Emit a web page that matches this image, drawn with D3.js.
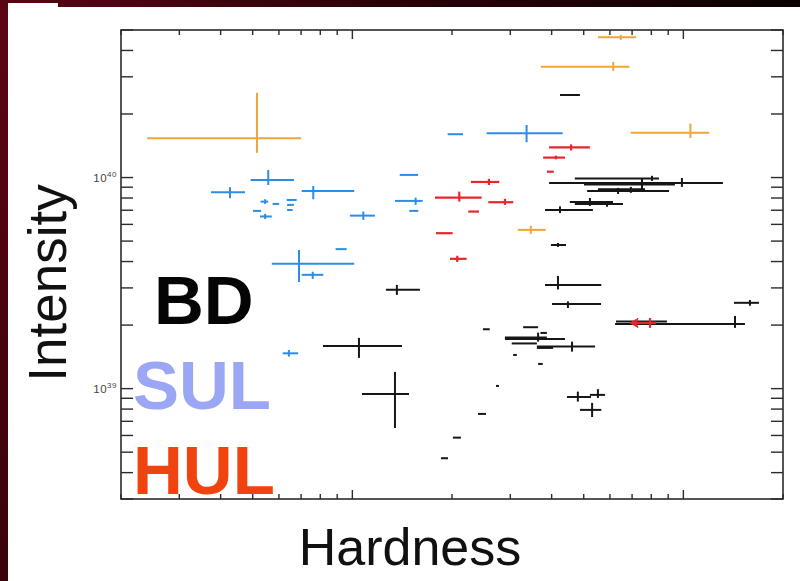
<!DOCTYPE html>
<html>
<head>
<meta charset="utf-8">
<script src="https://cdn.jsdelivr.net/npm/d3@7/dist/d3.min.js"></script>
<style>
  html, body { margin: 0; padding: 0; background: #2a0006; }
  svg { display: block; }
  text { font-family: "Liberation Sans", Arial, Helvetica, sans-serif; }
</style>
</head>
<body>
<svg id="chart" width="800" height="581"></svg>
<script>
// Hardness (x) vs intensity (y), both logarithmic.
// Each row: [x, xLow, xHigh, y, yLow, yHigh]; rows with 4 values have no y error.
const orangeRows = [
  [0.515, 0.24, 0.70, 1.535e40, 1.31e40, 2.52e40],
  [6.47, 5.52, 7.19, 4.62e40, 4.49e40, 4.74e40],
  [6.14, 3.71, 6.87, 3.35e40, 3.20e40, 3.53e40],
  [10.5, 6.93, 11.97, 1.63e40, 1.54e40, 1.80e40],
  [3.46, 3.16, 3.84, 5.65e39, 5.41e39, 5.90e39]
];

const sulRows = [
  [0.557, 0.493, 0.666, 9.74e39, 9.22e39, 1.087e40],
  [0.427, 0.374, 0.474, 8.52e39, 7.98e39, 9.0e39],
  [0.762, 0.703, 1.013, 8.64e39, 7.89e39, 9.12e39],
  [0.545, 0.528, 0.557, 7.69e39, 7.50e39, 7.89e39],
  [0.588, 0.574, 0.601, 7.50e39],
  [0.656, 0.633, 0.679, 7.83e39],
  [0.650, 0.635, 0.666, 7.42e39],
  [0.648, 0.635, 0.660, 7.02e39],
  [0.515, 0.501, 0.530, 6.95e39],
  [0.545, 0.526, 0.571, 6.54e39, 6.36e39, 6.73e39],
  [1.079, 0.983, 1.170, 6.60e39, 6.30e39, 6.90e39],
  [0.924, 0.890, 0.961, 4.58e39],
  [0.690, 0.571, 1.013, 3.90e39, 3.20e39, 4.54e39],
  [0.759, 0.703, 0.817, 3.46e39, 3.31e39, 3.58e39],
  [0.643, 0.616, 0.686, 1.47e39, 1.418e39, 1.525e39],
  [2.05, 1.94, 2.16, 1.604e40],
  [3.36, 2.545, 4.32, 1.621e40, 1.47e40, 1.775e40],
  [1.48, 1.39, 1.58, 1.029e40],
  [1.553, 1.345, 1.631, 7.75e39, 7.42e39, 8.03e39],
  [1.533, 1.486, 1.581, 6.95e39]
];

const hulRows = [
  [4.58, 3.93, 5.22, 1.389e40, 1.343e40, 1.435e40],
  [4.12, 3.77, 4.39, 1.243e40, 1.22e40, 1.27e40],
  [3.97, 3.87, 4.06, 1.066e40],
  [2.586, 2.282, 2.778, 9.53e39, 9.22e39, 9.86e39],
  [2.104, 1.777, 2.458, 8.03e39, 7.69e39, 8.58e39],
  [2.891, 2.574, 3.063, 7.64e39, 7.42e39, 7.93e39],
  [2.326, 2.239, 2.413, 6.90e39],
  [1.895, 1.789, 2.009, 5.45e39],
  [2.075, 1.972, 2.214, 4.12e39, 3.98e39, 4.26e39],
  [7.93, 7.93, 8.26, 2.048e39, 1.94e39, 2.16e39]
];

// Upper limits in hardness: [xFrom, xTo (arrow tip), y]
const hulLimits = [
  [8.26, 6.90, 2.048e39]
];

const bdRows = [
  [4.54, 4.24, 4.87, 2.46e40],
  [9.90, 3.93, 13.17, 9.43e39, 9.03e39, 9.95e39],
  [8.04, 4.70, 8.44, 9.90e39, 9.64e39, 1.019e40],
  [7.50, 5.01, 9.43, 9.28e39, 8.75e39, 9.86e39],
  [6.35, 5.12, 9.05, 8.64e39, 8.36e39, 8.93e39],
  [6.94, 5.52, 7.66, 8.80e39, 8.46e39, 9.03e39],
  [5.22, 4.54, 6.13, 7.66e39, 7.34e39, 8.0e39],
  [5.88, 4.70, 6.57, 7.50e39, 7.27e39, 7.66e39],
  [4.24, 3.82, 5.33, 7.02e39, 6.79e39, 7.30e39],
  [4.18, 3.98, 4.42, 4.79e39, 4.69e39, 4.90e39],
  [4.18, 3.82, 5.65, 3.10e39, 2.95e39, 3.42e39],
  [4.48, 4.01, 5.64, 2.52e39, 2.41e39, 2.59e39],
  [1.363, 1.263, 1.600, 2.94e39, 2.78e39, 3.10e39],
  [1.047, 0.815, 1.412, 1.593e39, 1.398e39, 1.739e39],
  [1.345, 1.069, 1.483, 9.44e38, 6.51e38, 1.20e39],
  [14.32, 6.22, 15.35, 2.026e39, 1.94e39, 2.21e39],
  [15.89, 14.22, 16.92, 2.55e39, 2.47e39, 2.63e39],
  [2.54, 2.48, 2.60, 1.911e39],
  [3.44, 3.28, 3.64, 1.954e39],
  [3.64, 2.89, 4.39, 1.72e39, 1.670e39, 1.842e39],
  [3.44, 2.89, 3.87, 1.748e39],
  [3.32, 3.03, 3.61, 1.637e39],
  [4.61, 3.61, 5.41, 1.585e39, 1.497e39, 1.670e39],
  [3.82, 3.61, 4.04, 1.559e39],
  [3.10, 3.06, 3.14, 1.444e39],
  [3.70, 3.64, 3.76, 1.309e39],
  [2.745, 2.716, 2.773, 1.030e39],
  [2.464, 2.396, 2.533, 7.59e38],
  [2.07, 2.013, 2.128, 5.86e38],
  [1.898, 1.852, 1.945, 4.68e38],
  [4.80, 4.45, 5.26, 9.13e38, 8.68e38, 9.68e38],
  [5.52, 5.22, 5.80, 9.34e38, 9.03e38, 9.94e38],
  [5.30, 4.87, 5.65, 7.93e38, 7.34e38, 8.56e38],
  [7.93, 6.26, 8.92, 2.08e39],
  [3.76, 3.70, 3.87, 1.836e39]
];

const yMajorTicks = [1e39, 1e40];
const yTickExponents = ["39", "40"];
const xMajorTicks = [1, 10];
const legendLabels = ["BD", "SUL", "HUL"];

const svg = d3.select("#chart");
const W = 800, H = 581;

// slide background: dark border on the left and top, white panel
const defs = svg.append("defs");
const topGrad = defs.append("linearGradient").attr("id", "topband").attr("x1", 0).attr("x2", 1);
topGrad.append("stop").attr("offset", 0).attr("stop-color", "#5a0512");
topGrad.append("stop").attr("offset", 0.5).attr("stop-color", "#2a0208");
topGrad.append("stop").attr("offset", 1).attr("stop-color", "#0c0002");
const leftGrad = defs.append("linearGradient").attr("id", "leftband").attr("x1", 0).attr("x2", 0).attr("y1", 0).attr("y2", 1);
leftGrad.append("stop").attr("offset", 0).attr("stop-color", "#5c0614");
leftGrad.append("stop").attr("offset", 1).attr("stop-color", "#3a0209");

svg.append("rect").attr("width", W).attr("height", H).attr("fill", "url(#leftband)");
svg.append("rect").attr("x", 0).attr("y", 0).attr("width", W).attr("height", 8).attr("fill", "url(#topband)");
svg.append("rect").attr("x", 8).attr("y", 7).attr("width", W - 8).attr("height", H - 7).attr("fill", "#ffffff");
svg.append("rect").attr("x", 8).attr("y", 3).attr("width", 50).attr("height", 5).attr("fill", "#ffffff");

const plotLeft = 121, plotRight = 783, plotTop = 30, plotBottom = 499;
const x = d3.scaleLog().domain([0.2, 20]).range([plotLeft, plotRight]);
const y = d3.scaleLog().domain([3e38, 5e40]).range([plotBottom, plotTop]);

const axisColor = "#2b2b2b";

// ticks: every 1..9 x 10^n inside the domains
const xTicks = x.ticks(20).filter(v => v >= 0.2 && v <= 20);
const yTicks = y.ticks(30).filter(v => v >= 3e38 && v <= 5e40);

const tickG = svg.append("g").attr("stroke", axisColor).attr("stroke-width", 1.4);
xTicks.forEach(v => {
  const isMajor = xMajorTicks.some(m => Math.abs(m - v) / m < 1e-9);
  const len = isMajor ? 9 : 5;
  const px = x(v);
  tickG.append("line").attr("x1", px).attr("x2", px).attr("y1", plotBottom).attr("y2", plotBottom - len);
  tickG.append("line").attr("x1", px).attr("x2", px).attr("y1", plotTop).attr("y2", plotTop + len);
});
yTicks.forEach(v => {
  const py = y(v);
  tickG.append("line").attr("x1", plotLeft).attr("x2", plotLeft + 12).attr("y1", py).attr("y2", py);
  tickG.append("line").attr("x1", plotRight).attr("x2", plotRight - 12).attr("y1", py).attr("y2", py);
});

// frame
svg.append("rect")
  .attr("x", plotLeft).attr("y", plotTop)
  .attr("width", plotRight - plotLeft).attr("height", plotBottom - plotTop)
  .attr("fill", "none").attr("stroke", axisColor).attr("stroke-width", 1.6);

// y tick labels 10^39, 10^40
yMajorTicks.forEach((v, i) => {
  const t = svg.append("text")
    .attr("x", 117).attr("y", y(v) + 4)
    .attr("text-anchor", "end")
    .attr("fill", "#444")
    .attr("font-size", 11.5)
    .attr("letter-spacing", 0.5);
  t.append("tspan").text("10");
  t.append("tspan").attr("dy", -5).attr("font-size", 8).text(yTickExponents[i]);
});

// error-bar crosses
function drawSeries(rows, color, width) {
  const g = svg.append("g").attr("stroke", color).attr("stroke-width", width).attr("stroke-linecap", "butt");
  rows.forEach(r => {
    const [xv, xlo, xhi, yv] = r;
    const ylo = r.length > 4 ? r[4] : yv;
    const yhi = r.length > 5 ? r[5] : yv;
    g.append("line").attr("x1", x(xlo)).attr("x2", x(xhi)).attr("y1", y(yv)).attr("y2", y(yv));
    if (ylo !== yhi) {
      g.append("line").attr("x1", x(xv)).attr("x2", x(xv)).attr("y1", y(ylo)).attr("y2", y(yhi));
    }
  });
}

drawSeries(orangeRows, "#f0a635", 2);
drawSeries(sulRows, "#2f8ce6", 2);
drawSeries(bdRows, "#161616", 2);
drawSeries(hulRows, "#e8262a", 2.2);

// hardness upper limit arrows
const limG = svg.append("g");
hulLimits.forEach(([from, to, yv]) => {
  const py = y(yv), tip = x(to);
  limG.append("line").attr("x1", x(from)).attr("x2", tip + 3).attr("y1", py).attr("y2", py)
    .attr("stroke", "#e8262a").attr("stroke-width", 2.4);
  limG.append("path")
    .attr("d", `M${tip},${py} L${tip + 8},${py - 4.5} L${tip + 6},${py} L${tip + 8},${py + 4.5} Z`)
    .attr("fill", "#e8262a").attr("stroke", "#e8262a").attr("stroke-width", 1);
});

// class labels
const legendColors = ["#050505", "#9ba7f4", "#f1430f"];
const legendBaselines = [324, 409, 494];
legendLabels.forEach((lab, i) => {
  svg.append("text")
    .attr("x", i === 0 ? 154 : 133)
    .attr("y", legendBaselines[i])
    .attr("font-size", 69)
    .attr("font-weight", "bold")
    .attr("fill", legendColors[i])
    .text(lab);
});

// axis titles
svg.append("text")
  .attr("x", 410).attr("y", 565)
  .attr("text-anchor", "middle")
  .attr("font-size", 52)
  .attr("fill", "#111")
  .text("Hardness");

svg.append("text")
  .attr("transform", "translate(66,283) rotate(-90)")
  .attr("text-anchor", "middle")
  .attr("font-size", 53)
  .attr("fill", "#111")
  .text("Intensity");
</script>
</body>
</html>
